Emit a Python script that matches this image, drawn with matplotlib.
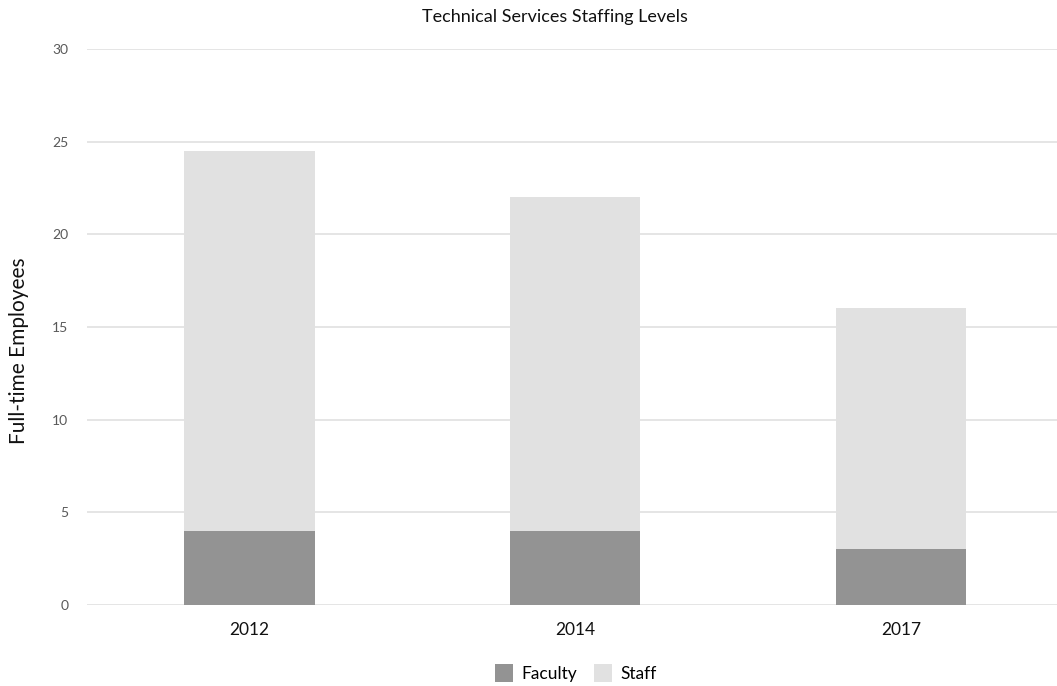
import matplotlib
matplotlib.use('Agg')
import matplotlib.pyplot as plt
import numpy as np

## Data
years = ['2012', '2014', '2017']
faculty = [4, 4, 3]
staff = [20.5, 18, 13]
y_ticks = [0, 5, 10, 15, 20, 25, 30]

plt.rcParams['font.family'] = ['Lato', 'DejaVu Sans']

fig = plt.figure(figsize=(10.57, 6.86), dpi=100)
ax = fig.add_axes([86.5 / 1057, 81 / 686, 977.5 / 1057, 556 / 686])

x = np.arange(len(years))
width = 0.4
ax.bar(x, faculty, width, color='#939393', label='Faculty', zorder=3)
ax.bar(x, staff, width, bottom=faculty, color='#e1e1e1', label='Staff', zorder=3)

ax.set_xlim(-0.5, 2.5)
ax.set_ylim(0, 30)
ax.set_yticks(y_ticks)
ax.set_xticks(x)
ax.set_xticklabels(years)
ax.yaxis.grid(True, color='#e0e0e0', linewidth=1.2, zorder=0)
ax.set_axisbelow(True)
for s in ax.spines.values():
    s.set_visible(False)
ax.tick_params(axis='y', length=0, pad=13, labelsize=10, labelcolor='#595959')
ax.tick_params(axis='x', length=0, pad=12, labelsize=12.5, labelcolor='#111111')

ax.set_ylabel('Full-time Employees', fontsize=15, color='#111111')
ax.yaxis.set_label_coords(-57 / 977.5, 0.457)
fig.text(555 / 1057, 1 - 17 / 686, 'Technical Services Staffing Levels',
         ha='center', va='center', fontsize=13, color='#111111')

fig.legend(loc='center', bbox_to_anchor=(576 / 1057, 1 - 673 / 686), ncol=2,
           frameon=False, fontsize=12.5, handlelength=1.0, handleheight=1.2,
           handletextpad=0.5, columnspacing=1.0)

fig.savefig('out.png', dpi=100)
